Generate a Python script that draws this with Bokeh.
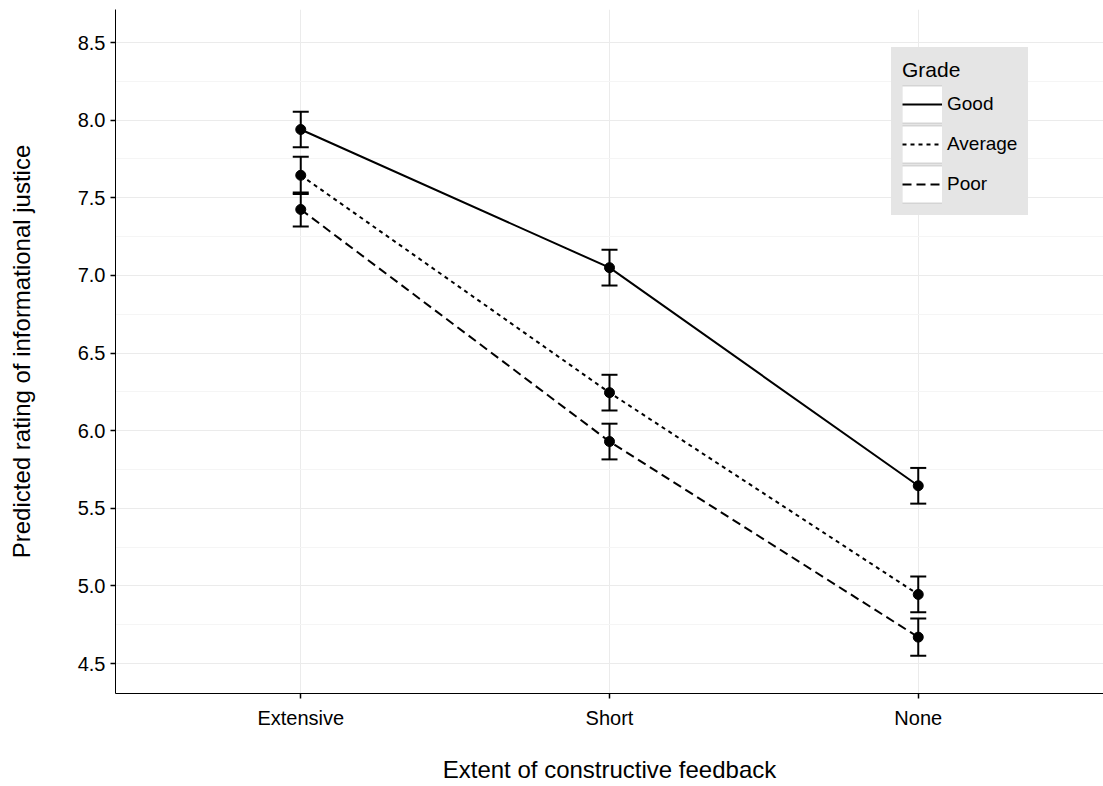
from bokeh.plotting import figure
from bokeh.models import (FactorRange, Range1d, FixedTicker, Whisker, TeeHead,
                          ColumnDataSource, Legend, LegendItem, NumeralTickFormatter)
from bokeh.embed import file_html
from bokeh.resources import INLINE

# ---- data ----
categories = ["Extensive", "Short", "None"]
series_names = ["Good", "Average", "Poor"]
good = [7.94, 7.05, 5.645]
average = [7.645, 6.245, 4.945]
poor = [7.425, 5.93, 4.67]
good_err = [0.115, 0.115, 0.115]
average_err = [0.12, 0.115, 0.115]
poor_err = [0.11, 0.115, 0.12]
y_ticks = [4.5, 5.0, 5.5, 6.0, 6.5, 7.0, 7.5, 8.0, 8.5]
y_minor = [4.75, 5.25, 5.75, 6.25, 6.75, 7.25, 7.75, 8.25]

FONT = "Liberation Sans"

p = figure(width=1103, height=786,
           x_range=FactorRange(factors=categories, range_padding=0.1,
                               range_padding_units="absolute"),
           y_range=Range1d(4.307, 8.713),
           output_backend="svg", toolbar_location=None,
           min_border_left=115, min_border_right=0,
           min_border_top=9, min_border_bottom=93)

p.outline_line_color = None
p.background_fill_color = "white"

# grid
p.xgrid.grid_line_color = "#ebebeb"
p.xgrid.grid_line_width = 1
p.ygrid.ticker = FixedTicker(ticks=y_ticks, minor_ticks=y_minor)
p.ygrid.grid_line_color = "#ebebeb"
p.ygrid.grid_line_width = 1
p.ygrid.minor_grid_line_color = "#f5f5f5"
p.ygrid.minor_grid_line_width = 1

# axes
p.yaxis.ticker = FixedTicker(ticks=y_ticks, minor_ticks=[])
p.yaxis.formatter = NumeralTickFormatter(format="0.0")
for ax in (p.xaxis[0], p.yaxis[0]):
    ax.axis_line_color = "black"
    ax.axis_line_width = 1
    ax.major_tick_line_color = "black"
    ax.major_tick_line_width = 1.5
    ax.major_tick_in = 0
    ax.major_tick_out = 5
    ax.minor_tick_line_color = None
    ax.major_label_text_font = FONT
    ax.major_label_text_font_size = "20px"
    ax.major_label_text_color = "black"
    ax.axis_label_text_font = FONT
    ax.axis_label_text_font_size = "24px"
    ax.axis_label_text_font_style = "normal"
    ax.axis_label_text_color = "black"

p.xaxis.axis_label = "Extent of constructive feedback"
p.yaxis.axis_label = "Predicted rating of informational justice"
p.xaxis.major_label_standoff = 8
p.xaxis.axis_label_standoff = 24
p.yaxis.major_label_standoff = 5
p.yaxis.axis_label_standoff = 40

dashes = ["solid", "4 4", "9 5"]
values = [good, average, poor]
errs = [good_err, average_err, poor_err]

line_renderers = []
for vals, dash in zip(values, dashes):
    r = p.line(x=categories, y=vals, line_color="black", line_width=2,
               line_dash=dash)
    line_renderers.append(r)

for vals, err in zip(values, errs):
    src = ColumnDataSource(dict(x=categories,
                                upper=[v + e for v, e in zip(vals, err)],
                                lower=[v - e for v, e in zip(vals, err)]))
    w = Whisker(base="x", upper="upper", lower="lower", source=src,
                dimension="height", line_color="black", line_width=2,
                upper_head=TeeHead(size=16, line_color="black", line_width=2),
                lower_head=TeeHead(size=16, line_color="black", line_width=2))
    p.add_layout(w)

for vals in values:
    p.scatter(x=categories, y=vals, size=10, marker="circle",
              fill_color="black", line_color="black")

# legend key swatches: single-point lines (draw nothing in the plot) that
# paint a thick grey band and a white band inside each legend key
key_src = ColumnDataSource(dict(x=[categories[0]], y=[y_ticks[0]]))
key_border = p.line(x="x", y="y", source=key_src, line_color="#d4d4d4",
                    line_width=39)
key_fill = p.line(x="x", y="y", source=key_src, line_color="white",
                  line_width=36)

items = [LegendItem(label=name, renderers=[key_border, key_fill, r])
         for name, r in zip(series_names, line_renderers)]
legend = Legend(items=items, location=(776, 478), title="Grade",
                title_text_font=FONT, title_text_font_size="21px",
                title_text_font_style="normal", title_text_color="black",
                title_standoff=2,
                label_text_font=FONT, label_text_font_size="19px",
                label_text_color="black",
                glyph_width=40, glyph_height=40, spacing=0,
                label_standoff=5, padding=10, margin=0,
                background_fill_color="#e5e5e5", background_fill_alpha=1,
                border_line_color="#e5e5e5", border_line_width=1)
p.add_layout(legend, "center")

open("out.html", "w").write(file_html(p, INLINE))
